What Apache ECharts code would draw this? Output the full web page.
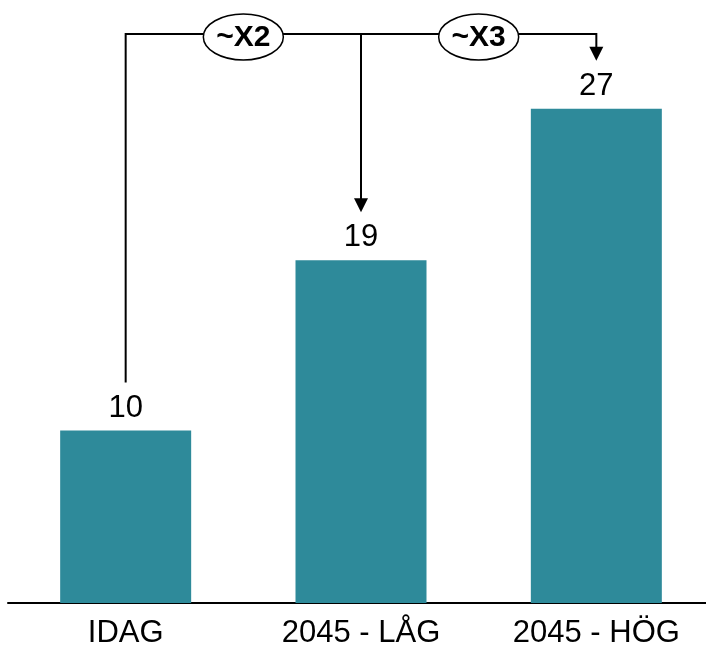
<!DOCTYPE html>
<html>
<head>
<meta charset="utf-8">
<script src="https://cdn.jsdelivr.net/npm/echarts@6/dist/echarts.min.js"></script>
<style>
  html, body { margin: 0; padding: 0; background: #ffffff; }
  #chart { width: 706px; height: 647px; }
</style>
</head>
<body>
<div id="chart"></div>
<script>
// Scenario categories and their values
const categories = ['IDAG', '2045 - LÅG', '2045 - HÖG'];
const values = [10, 19, 27];
// Growth factors relative to today, shown in the bracket above the bars
const ratioLabels = ['~X2', '~X3'];

const FONT = '"Liberation Sans", Arial, sans-serif';
const BAR_COLOR = '#2e8a9a';

const chart = echarts.init(document.getElementById('chart'), null, { renderer: 'canvas' });

chart.setOption({
  animation: false,
  backgroundColor: '#ffffff',
  grid: { left: 8, width: 706, top: 14, bottom: 44, containLabel: false, outerBoundsMode: 'none' },
  xAxis: {
    type: 'category',
    data: categories,
    axisTick: { show: false },
    axisLine: { show: true, lineStyle: { color: '#000000', width: 2 } },
    axisLabel: { color: '#000000', fontSize: 31, fontFamily: FONT, margin: 15 }
  },
  yAxis: {
    type: 'value',
    min: 0.89,
    max: 32,
    show: false,
    splitLine: { show: false }
  },
  series: [{
    type: 'bar',
    data: values,
    barWidth: 131,
    itemStyle: { color: BAR_COLOR },
    label: {
      show: true,
      position: 'top',
      distance: 7,
      color: '#000000',
      fontSize: 31,
      fontFamily: FONT
    }
  }]
});

// Bracket with arrows linking today's value to the two 2045 scenarios
function drawBracket() {
  const px = values.map((v, i) => chart.convertToPixel({ seriesIndex: 0 }, [i, v]));
  const topY = 34;
  const badgeY = 37;   // badges sit slightly below the bracket line
  const gap = 48;      // space between bar top and line/arrow end
  const aw = 7;        // arrow half width
  const ah = 14;       // arrow height
  const stroke = { stroke: '#000000', lineWidth: 2, fill: null };

  const elements = [];
  // Left leg up from today's bar, across to the highest scenario, down with arrow
  elements.push({
    type: 'polyline',
    shape: { points: [
      [px[0][0], px[0][1] - gap],
      [px[0][0], topY],
      [px[2][0], topY],
      [px[2][0], px[2][1] - gap - ah + 1]
    ] },
    style: stroke,
    z: 10
  });
  // Middle drop to the low scenario
  elements.push({
    type: 'line',
    shape: { x1: px[1][0], y1: topY, x2: px[1][0], y2: px[1][1] - gap - ah + 1 },
    style: stroke,
    z: 10
  });
  // Arrow heads
  [1, 2].forEach(i => {
    const tip = px[i][1] - gap;
    elements.push({
      type: 'polygon',
      shape: { points: [[px[i][0] - aw, tip - ah], [px[i][0] + aw, tip - ah], [px[i][0], tip]] },
      style: { fill: '#000000' },
      z: 11
    });
  });
  // Ellipse badges with growth factors
  ratioLabels.forEach((txt, k) => {
    const cx = (px[k][0] + px[k + 1][0]) / 2;
    elements.push({
      type: 'ellipse',
      shape: { cx: cx, cy: badgeY, rx: 40, ry: 23 },
      style: { fill: '#ffffff', stroke: '#000000', lineWidth: 1.5 },
      z: 12
    });
    elements.push({
      type: 'text',
      x: cx,
      y: badgeY + 1,
      style: {
        text: txt,
        fill: '#000000',
        font: 'bold 30px ' + FONT,
        align: 'center',
        verticalAlign: 'middle'
      },
      z: 13
    });
  });

  chart.setOption({ graphic: { elements: elements } });
}

drawBracket();
</script>
</body>
</html>
